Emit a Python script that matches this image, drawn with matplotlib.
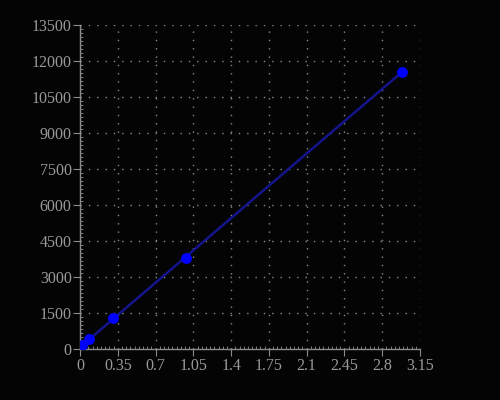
import numpy as np
import matplotlib
matplotlib.use('Agg')
import matplotlib.pyplot as plt
from matplotlib.ticker import AutoMinorLocator

# standard curve points
conc = [0.0185, 0.086, 0.31, 0.98, 2.98]
signal = [167, 417, 1292, 3792, 11554]

xticks = [0, 0.35, 0.7, 1.05, 1.4, 1.75, 2.1, 2.45, 2.8, 3.15]
xlabels = ['0', '0.35', '0.7', '1.05', '1.4', '1.75', '2.1', '2.45', '2.8', '3.15']
yticks = [0, 1500, 3000, 4500, 6000, 7500, 9000, 10500, 12000, 13500]

bg = '#040404'
grey = '#8c8c8c'

plt.rcParams['font.family'] = ['Liberation Serif', 'DejaVu Serif']

fig = plt.figure(figsize=(5, 4), dpi=100, facecolor=bg)
ax = fig.add_axes([0.16, 0.127, 0.68, 0.81], facecolor=bg)

# linear fit between first and last point
k, b = np.polyfit(conc, signal, 1)
xs = np.array([conc[0], conc[-1]])
ax.plot(xs, k * xs + b, color='#14148c', lw=1.8, zorder=2)
ax.plot(conc, signal, 'o', color='#0000ff', ms=6.8, zorder=3)

ax.set_xlim(0, 3.15)
ax.set_ylim(0, 13500)
ax.set_xticks(xticks)
ax.set_xticklabels(xlabels)
ax.set_yticks(yticks)
ax.xaxis.set_minor_locator(AutoMinorLocator(9))
ax.yaxis.set_minor_locator(AutoMinorLocator(9))

ax.grid(True, which='major', color='#8a8a8a', linestyle=(0, (1, 5)), lw=1)
for s in ['top', 'right']:
    ax.spines[s].set_visible(False)
for s in ['left', 'bottom']:
    ax.spines[s].set_color(grey)
    ax.spines[s].set_linewidth(1)

ax.tick_params(which='major', direction='out', length=5, color=grey,
               labelcolor='#9a9a9a', labelsize=11.5, pad=1)
ax.tick_params(which='minor', direction='in', length=2, color=grey)

plt.savefig('out.png', dpi=100, facecolor=bg)
